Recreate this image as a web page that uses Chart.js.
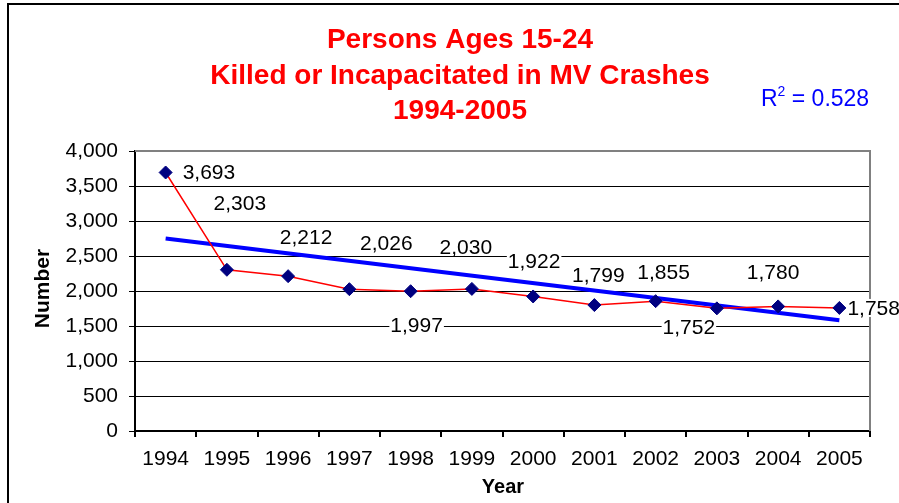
<!DOCTYPE html>
<html>
<head>
<meta charset="utf-8">
<script src="https://cdn.jsdelivr.net/npm/chart.js@4.4.0/dist/chart.umd.min.js"></script>
<style>
  html, body { margin: 0; padding: 0; background: #fff; }
  canvas { display: block; }
</style>
</head>
<body>
<canvas id="crashChart" width="899" height="503"></canvas>
<script>
// data
const years = ['1994', '1995', '1996', '1997', '1998', '1999', '2000', '2001', '2002', '2003', '2004', '2005'];
const persons = [3693, 2303, 2212, 2026, 1997, 2030, 1922, 1799, 1855, 1752, 1780, 1758];
const trendEnds = [2750, 1583];   // linear trend at 1994 and 2005
const rSquared = '0.528';
const titleLines = ['Persons Ages 15-24', 'Killed or Incapacitated in MV Crashes', '1994-2005'];

// where each value label sits relative to its point: [align, dx, dy]
const labelNudge = [
  ['left', 17, 0], ['center', 13, -67], ['center', 18, -39], ['center', 37, -46],
  ['center', 6, 34], ['center', -6, -42], ['center', 1, -35], ['center', 4, -30],
  ['center', 8, -29], ['center', -28, 19], ['center', -5, -34], ['left', 8, 0]
];

const FONT = '"Liberation Sans", Arial, sans-serif';

const trendData = years.map((y, i) => i === 0 ? trendEnds[0] : (i === years.length - 1 ? trendEnds[1] : null));

const decorations = {
  id: 'decorations',
  afterDraw(chart) {
    const ctx = chart.ctx;
    const area = chart.chartArea;
    ctx.save();

    // plot area border (top + right, gray)
    ctx.fillStyle = '#808080';
    ctx.fillRect(area.left, area.top - 1, area.right - area.left + 1, 2);
    ctx.fillRect(area.right - 1, area.top - 1, 2, area.bottom - area.top + 1);

    // value labels with white boxes
    const meta = chart.getDatasetMeta(0);
    ctx.font = '21px ' + FONT;
    ctx.textBaseline = 'middle';
    meta.data.forEach((pt, i) => {
      const txt = persons[i].toLocaleString('en-US');
      const n = labelNudge[i];
      const w = ctx.measureText(txt).width;
      const x = pt.x + n[1];
      const y = pt.y + n[2];
      const left = n[0] === 'left' ? x : x - w / 2;
      ctx.fillStyle = '#fff';
      ctx.fillRect(left - 1, y - 9, w + 2, 18);
      ctx.fillStyle = '#000';
      ctx.textAlign = 'left';
      ctx.fillText(txt, left, y + 1);
    });

    // title
    ctx.fillStyle = '#ff0000';
    ctx.font = 'bold 28px ' + FONT;
    ctx.textAlign = 'center';
    ctx.textBaseline = 'alphabetic';
    const baselines = [48, 83.5, 119];
    titleLines.forEach((t, i) => ctx.fillText(t, 460, baselines[i]));

    // R squared
    ctx.fillStyle = '#0000ff';
    ctx.textAlign = 'left';
    ctx.font = '23px ' + FONT;
    let rx = 761;
    ctx.fillText('R', rx, 106);
    rx += ctx.measureText('R').width;
    ctx.font = '14px ' + FONT;
    ctx.fillText('2', rx, 96);
    rx += ctx.measureText('2').width;
    ctx.font = '23px ' + FONT;
    ctx.fillText(' = ' + rSquared, rx, 106);

    // axis titles
    ctx.fillStyle = '#000';
    ctx.font = 'bold 20px ' + FONT;
    ctx.textAlign = 'center';
    ctx.fillText('Year', 503, 493);
    ctx.save();
    ctx.translate(49, 288.5);
    ctx.rotate(-Math.PI / 2);
    ctx.font = 'bold 21px ' + FONT;
    ctx.fillText('Number', 0, 0);
    ctx.restore();

    // outer frame, left and top
    ctx.fillStyle = '#000';
    ctx.fillRect(7, 3, 2, 500);
    ctx.fillRect(7, 3, 892, 2);

    ctx.restore();
  }
};

new Chart(document.getElementById('crashChart'), {
  type: 'line',
  data: {
    labels: years,
    datasets: [
      {
        data: persons,
        borderColor: '#ff0000',
        borderWidth: 1.5,
        pointStyle: 'rectRot',
        pointRadius: 6.5,
        pointBackgroundColor: '#000080',
        pointBorderColor: '#000080',
        pointBorderWidth: 1,
        tension: 0
      },
      {
        data: trendData,
        borderColor: '#0000ff',
        borderWidth: 4,
        pointRadius: 0,
        spanGaps: true,
        tension: 0
      }
    ]
  },
  options: {
    responsive: false,
    animation: false,
    layout: { padding: { top: 151, right: 29, left: 0, bottom: 0 } },
    plugins: {
      legend: { display: false },
      title: { display: false },
      tooltip: { enabled: false }
    },
    scales: {
      x: {
        offset: true,
        grid: { offset: true, drawOnChartArea: false, drawTicks: true, tickLength: 6, color: '#000', lineWidth: 2 },
        border: { color: '#000', width: 2 },
        ticks: { color: '#000', font: { family: FONT, size: 21 }, padding: 10, maxRotation: 0, autoSkip: false },
        afterFit: s => { s.height = 72; }
      },
      y: {
        min: 0,
        max: 4000,
        ticks: {
          stepSize: 500,
          padding: 11,
          color: '#000',
          font: { family: FONT, size: 21 },
          callback: v => v.toLocaleString('en-US')
        },
        grid: { color: '#000', tickColor: '#000', tickLength: 6, lineWidth: 1 },
        border: { color: '#000', width: 2 },
        afterFit: s => { s.width = 135; }
      }
    }
  },
  plugins: [decorations]
});
</script>
</body>
</html>
